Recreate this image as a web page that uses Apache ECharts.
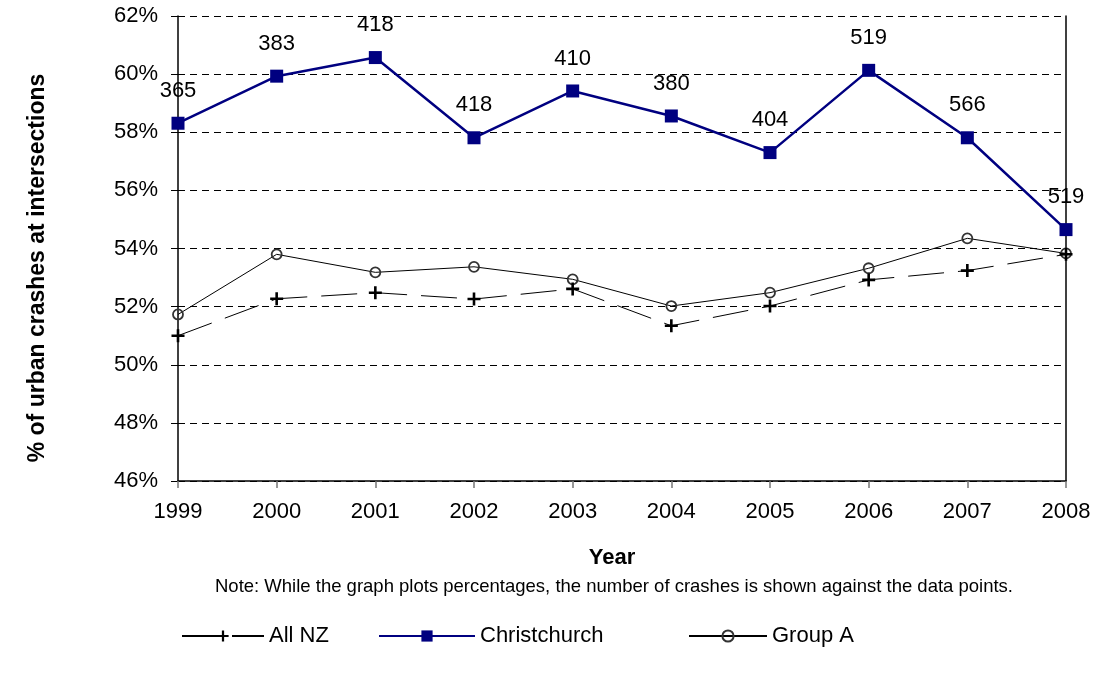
<!DOCTYPE html>
<html>
<head>
<meta charset="utf-8">
<script src="https://cdn.jsdelivr.net/npm/echarts@6/dist/echarts.min.js"></script>
<style>
html,body{margin:0;padding:0;background:#fff;}
#chart{width:1095px;height:674px;}
</style>
</head>
<body>
<div id="chart"></div>
<script>
const years = ['1999','2000','2001','2002','2003','2004','2005','2006','2007','2008'];
const allNZ = [51.00, 52.27, 52.48, 52.26, 52.61, 51.34, 52.02, 52.92, 53.24, 53.80];
const christchurch = [58.31, 59.93, 60.57, 57.81, 59.42, 58.56, 57.30, 60.13, 57.81, 54.65];
const groupA = [51.73, 53.80, 53.18, 53.37, 52.94, 52.02, 52.48, 53.32, 54.35, 53.83];
const crashCounts = [365, 383, 418, 418, 410, 380, 404, 519, 566, 519];
const yTicks = [46, 48, 50, 52, 54, 56, 58, 60, 62];

const FONT = 'Liberation Sans, Arial, sans-serif';
const plusPath = 'path://M4,0 H6 V4 H10 V6 H6 V10 H4 V6 H0 V4 H4 Z';

const chart = echarts.init(document.getElementById('chart'));
const legendBase = {
  top: 620,
  itemWidth: 82,
  itemHeight: 14,
  textStyle: {fontFamily: FONT, fontSize: 22, color: '#000'},
  itemGap: 10
};
chart.setOption({
  animation: false,
  backgroundColor: '#fff',
  textStyle: {fontFamily: FONT},
  grid: {left: 178, right: 29, top: 16, bottom: 193},
  legend: [
    Object.assign({}, legendBase, {left: 176, data: ['All NZ']}),
    Object.assign({}, legendBase, {left: 373, itemWidth: 96, data: ['Christchurch']}),
    Object.assign({}, legendBase, {left: 683, itemWidth: 78, data: ['Group A']})
  ],
  xAxis: {
    type: 'category',
    data: years,
    boundaryGap: false,
    axisLine: {lineStyle: {color: '#000', width: 1.5}},
    axisTick: {show: true, length: 7, lineStyle: {color: '#777', width: 1.5}},
    axisLabel: {fontFamily: FONT, fontSize: 22, color: '#000', margin: 20}
  },
  yAxis: [{
    type: 'value',
    min: yTicks[0],
    max: yTicks[yTicks.length - 1],
    interval: 2,
    axisLine: {show: true, lineStyle: {color: '#000', width: 1.5}},
    axisTick: {show: true, length: 7, lineStyle: {color: '#000', width: 1}},
    axisLabel: {fontFamily: FONT, fontSize: 22, color: '#000', margin: 20, formatter: '{value}%'},
    splitLine: {show: true, lineStyle: {color: '#000', width: 1, type: [7, 5]}}
  }, {
    type: 'value',
    position: 'right',
    min: yTicks[0],
    max: yTicks[yTicks.length - 1],
    interval: 2,
    axisLine: {show: true, lineStyle: {color: '#000', width: 1.5}},
    axisTick: {show: false},
    axisLabel: {show: false},
    splitLine: {show: false}
  }],
  series: [
    {
      name: 'All NZ',
      type: 'line',
      data: allNZ,
      symbol: plusPath,
      symbolSize: 13,
      lineStyle: {color: '#000', width: 1, type: [36, 14]},
      itemStyle: {color: '#000'},
      z: 3
    },
    {
      name: 'Christchurch',
      type: 'line',
      data: christchurch,
      symbol: 'rect',
      symbolSize: 13,
      lineStyle: {color: '#000080', width: 2.5},
      itemStyle: {color: '#000080'},
      label: {
        show: true,
        position: 'top',
        distance: 15,
        fontFamily: FONT,
        fontSize: 22,
        color: '#000',
        formatter: p => String(crashCounts[p.dataIndex])
      },
      z: 4
    },
    {
      name: 'Group A',
      type: 'line',
      data: groupA,
      symbol: 'circle',
      symbolSize: 10,
      lineStyle: {color: '#000', width: 1},
      itemStyle: {color: 'rgba(255,255,255,0)', borderColor: '#333', borderWidth: 1.8},
      z: 2
    }
  ],
  graphic: [
    {
      type: 'text',
      x: 38, y: 268,
      rotation: Math.PI / 2,
      style: {text: '% of urban crashes at intersections', font: 'bold 23px ' + FONT, fill: '#000', align: 'center', verticalAlign: 'middle'}
    },
    {
      type: 'text',
      x: 612, y: 558,
      style: {text: 'Year', font: 'bold 22px ' + FONT, fill: '#000', align: 'center', verticalAlign: 'middle'}
    },
    {
      type: 'text',
      x: 614, y: 587,
      style: {text: 'Note: While the graph plots percentages, the number of crashes is shown against the data points.', font: '18.5px ' + FONT, fill: '#000', align: 'center', verticalAlign: 'middle'}
    }
  ]
});
</script>
</body>
</html>
